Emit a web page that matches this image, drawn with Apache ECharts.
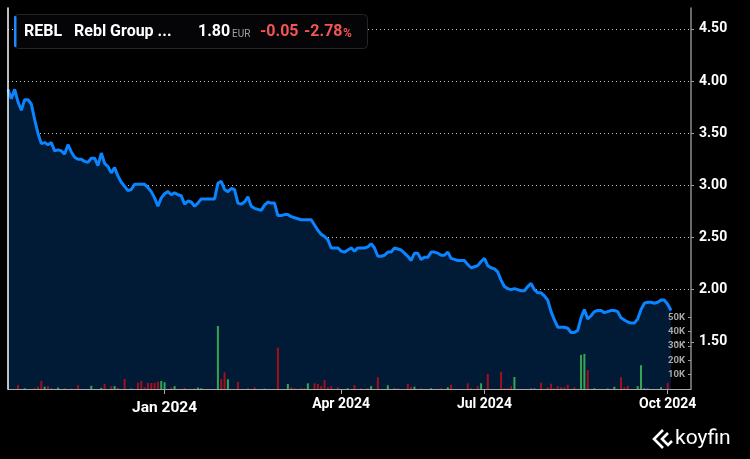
<!DOCTYPE html>
<html>
<head>
<meta charset="utf-8">
<script src="https://cdn.jsdelivr.net/npm/echarts@6/dist/echarts.min.js"></script>
<style>
html,body{margin:0;padding:0;background:#000;}
#c{width:750px;height:459px;}
</style>
</head>
<body>
<div id="c"></div>
<script>
// ---- data ----
const slotCount = 206; // trading-day slots on the x axis
const tickIndex = [47, 100, 143, 198];
const tickLabels = ['Jan 2024', 'Apr 2024', 'Jul 2024', 'Oct 2024'];

const price = [
 3.92,3.83,3.92,3.80,3.72,3.82,3.82,3.78,3.63,3.50,
 3.40,3.41,3.39,3.41,3.33,3.34,3.33,3.30,3.39,3.32,
 3.27,3.25,3.25,3.23,3.22,3.26,3.26,3.19,3.31,3.21,
 3.18,3.12,3.17,3.09,3.03,2.99,2.95,2.96,3.01,3.01,
 3.01,3.01,2.98,2.94,2.88,2.80,2.88,2.92,2.94,2.91,
 2.93,2.91,2.90,2.82,2.85,2.84,2.80,2.83,2.87,2.87,
 2.87,2.87,2.87,3.02,3.04,2.96,2.94,2.97,2.96,2.83,
 2.82,2.84,2.89,2.80,2.78,2.77,2.76,2.81,2.84,2.83,
 2.83,2.71,2.71,2.72,2.72,2.70,2.69,2.68,2.67,2.67,
 2.67,2.67,2.62,2.57,2.53,2.51,2.48,2.40,2.40,2.40,
 2.37,2.36,2.38,2.40,2.37,2.40,2.40,2.40,2.41,2.44,
 2.40,2.32,2.32,2.33,2.36,2.36,2.40,2.39,2.38,2.35,
 2.32,2.28,2.35,2.35,2.29,2.31,2.31,2.36,2.36,2.35,
 2.33,2.33,2.36,2.30,2.29,2.28,2.28,2.28,2.24,2.21,
 2.22,2.23,2.27,2.30,2.23,2.21,2.20,2.17,2.09,2.03,
 2.01,2.00,2.01,2.00,1.99,1.99,2.03,2.06,2.00,1.97,
 1.97,1.94,1.90,1.79,1.71,1.64,1.64,1.64,1.63,1.59,
 1.59,1.61,1.73,1.81,1.72,1.75,1.79,1.80,1.80,1.78,
 1.79,1.80,1.80,1.79,1.73,1.71,1.69,1.68,1.68,1.72,
 1.81,1.87,1.88,1.88,1.87,1.88,1.90,1.90,1.86,1.80
];

// volume in thousands of shares
const volumeK = [
 0,0,0,2.8,0,0.5,0,0,0.5,1.6,5.6,1.6,2,0.3,0,1,0,0.3,0,0.3,
 0,2.6,0,0,0,2.2,0,0,0.8,3.5,0,2,2,0.8,0,7,0,0.3,0,4.4,
 5.6,1.2,4.2,4.2,4.2,5.1,5.6,4.7,0,1,2,0,0,0.8,0,0,0.5,1,0.5,0,
 0,0,0,44,7,11.7,6.8,0,0,4.9,0,0,0.3,0,1.2,0,0,0.3,0,0,
 0,28.9,0,0,3.5,1.2,0.5,0,0.5,0.5,4,0,4,3.5,2,6.3,1.2,2,0,1.2,
 0,0,0.5,0,2.8,0,0.5,0,0.6,2,0,8.2,0,0,2.6,0,0.4,0.5,0,0,
 3.5,1.6,1.6,0,0.5,0,0,0.5,0,0,0.5,0,1.2,3,0,0,0,0,4,0.5,
 0,2,4,0,10.5,0,0,0,12.1,0.5,0.5,2,8.4,0,0,0,0,0.4,0.4,0,
 4.4,0,1.2,3.7,0.5,2,1.2,1.2,3,0,1.2,0,23.8,24.5,13.3,0,0.5,0,0,0,
 0.4,0,1.6,0,8.2,1.2,2.3,0,0,2,16.6,0.5,0.4,0,0,0,1.2,0,4.4,0
];
// g = up day, r = down day, n = unchanged
const volumeSide =
 'nnnrngnnrrrgrnngnnnr' + 'nrnnngnngrnrgrnrnnnr' +
 'rrrrrrggnrgnnrnnrggn' + 'nnngrrgnnrnnnnrnnnnn' +
 'nrnngrrnrrgnrrrrrrnr' + 'nngnrnrnrgnrnngnnrnn' +
 'rrgnrnngnnrngrnnnnrr' + 'nrgnrnnnrrrrgnnnnnnn' +
 'rnrrrrrrrnrnggrngnnn' + 'nngnrrrnngggnnnngnrn';

const volTickValues = [10000, 20000, 30000, 40000, 50000];

// ---- build chart ----
const categories = [];
for (let i = 0; i < slotCount; i++) categories.push('d' + i);
const labelAt = {};
tickIndex.forEach((ix, k) => { labelAt[ix] = tickLabels[k]; });

const sideColor = { g: '#33a653', r: '#a30f1c', n: '#6a6e77' };
const volData = volumeK.map((v, i) => ({
  value: v * 1000,
  itemStyle: { color: sideColor[volumeSide[i]] }
}));

const chart = echarts.init(document.getElementById('c'), null, { renderer: 'canvas' });
const showTick = (idx) => labelAt[idx] !== undefined;

chart.setOption({
  backgroundColor: '#000000',
  animation: false,
  grid: { left: 8, right: 59, top: 8, bottom: 70, containLabel: false },
  xAxis: {
    type: 'category',
    data: categories,
    boundaryGap: false,
    axisLine: { show: true, lineStyle: { color: '#a8a8a8', width: 1 } },
    axisTick: { show: true, length: 5, interval: showTick, lineStyle: { color: '#a8a8a8' } },
    axisLabel: {
      interval: showTick,
      margin: 8,
      formatter: (v, idx) => {
        const t = labelAt[idx];
        if (t === undefined) return '';
        return t.indexOf('Jan') === 0 ? '{big|' + t + '}' : '{n|' + t + '}';
      },
      rich: {
        big: { fontFamily: 'Roboto', fontWeight: 'bold', fontSize: 15.5, color: '#ffffff', padding: [3, 0, 0, 0] },
        n: { fontFamily: 'Roboto', fontWeight: 'bold', fontSize: 14, color: '#ffffff' }
      }
    },
    splitLine: { show: false }
  },
  yAxis: [
    {
      type: 'value',
      position: 'right',
      min: 1.048,
      max: 4.70,
      splitNumber: 7,
      minInterval: 0.5,
      maxInterval: 0.5,
      axisLine: { show: true, lineStyle: { color: '#8c8c8c', width: 1.5 } },
      axisTick: { show: true, length: 3, lineStyle: { color: '#9a9a9a' } },
      axisLabel: {
        showMinLabel: false, showMaxLabel: false,
        margin: 8,
        color: '#ffffff', fontFamily: 'Roboto', fontWeight: 'bold', fontSize: 14,
        formatter: v => v.toFixed(2)
      },
      splitLine: {
        show: true, showMinLine: false, showMaxLine: false,
        lineStyle: { color: '#c4c4c4', type: [1, 3], width: 1 }
      }
    },
    {
      type: 'value',
      position: 'right',
      min: 0,
      max: 266000,
      interval: 10000,
      z: 6,
      axisLine: { show: false },
      axisTick: { show: true, inside: true, length: 3, customValues: volTickValues, lineStyle: { color: '#9a9a9a' } },
      axisLabel: {
        inside: true,
        margin: 6,
        customValues: volTickValues,
        color: '#a6a6a6', fontFamily: 'Roboto', fontWeight: 'bold', fontSize: 9.5,
        formatter: v => (v > 0 && v <= 50000) ? (v / 1000) + 'K' : ''
      },
      splitLine: { show: false }
    },
    {
      type: 'value',
      position: 'left',
      z: 6,
      axisLine: { show: true, lineStyle: { color: '#ffffff', width: 1.5 } },
      axisTick: { show: false },
      axisLabel: { show: false },
      splitLine: { show: false }
    }
  ],
  series: [
    {
      type: 'line',
      yAxisIndex: 0,
      data: price,
      showSymbol: false,
      smooth: false,
      lineStyle: { color: '#0a84ff', width: 3 },
      areaStyle: { color: '#011a35', opacity: 1, origin: 'start' },
      z: 2
    },
    {
      type: 'bar',
      yAxisIndex: 1,
      data: volData,
      barWidth: 2,
      z: 3
    }
  ],
  graphic: [
    { type: 'rect', shape: { x: 14.5, y: 14.5, width: 353, height: 34, r: 4 },
      style: { fill: '#050507', stroke: '#24242a', lineWidth: 1 }, z: 10 },
    { type: 'rect', shape: { x: 14, y: 16, width: 2.5, height: 31, r: 1 },
      style: { fill: '#1e88ff' }, z: 11 },
    { type: 'text', x: 24, y: 32, z: 11,
      style: { text: 'REBL', fill: '#ffffff', font: 'bold 16px Roboto', verticalAlign: 'middle' } },
    { type: 'text', x: 74, y: 32, z: 11,
      style: { text: 'Rebl Group ...', fill: '#ffffff', font: 'bold 16px Roboto', verticalAlign: 'middle' } },
    { type: 'text', x: 198, y: 32, z: 11,
      style: { text: '1.80', fill: '#ffffff', font: 'bold 16px Roboto', verticalAlign: 'middle' } },
    { type: 'text', x: 232, y: 34, z: 11,
      style: { text: 'EUR', fill: '#a0a0a0', font: '10px Roboto', verticalAlign: 'middle' } },
    { type: 'text', x: 260, y: 32, z: 11,
      style: { text: '-0.05', fill: '#f25555', font: 'bold 16px Roboto', verticalAlign: 'middle' } },
    { type: 'text', x: 304, y: 32, z: 11,
      style: { text: '-2.78', fill: '#f25555', font: 'bold 16px Roboto', verticalAlign: 'middle' } },
    { type: 'text', x: 343, y: 33.5, z: 11,
      style: { text: '%', fill: '#f25555', font: 'bold 12px Roboto', verticalAlign: 'middle' } },
    // koyfin logo
    { type: 'polyline', z: 11, shape: { points: [[663, 430], [654, 439], [663, 448]] },
      style: { stroke: '#ffffff', lineWidth: 2.6, fill: null } },
    { type: 'polyline', z: 11, shape: { points: [[668, 433], [662, 439], [668, 445], [672, 441]] },
      style: { stroke: '#ffffff', lineWidth: 2.6, fill: null } },
    { type: 'text', x: 675, y: 439, z: 11,
      style: { text: 'koyfin', fill: '#ffffff', font: '21px Roboto', verticalAlign: 'middle' } }
  ]
});
</script>
</body>
</html>
